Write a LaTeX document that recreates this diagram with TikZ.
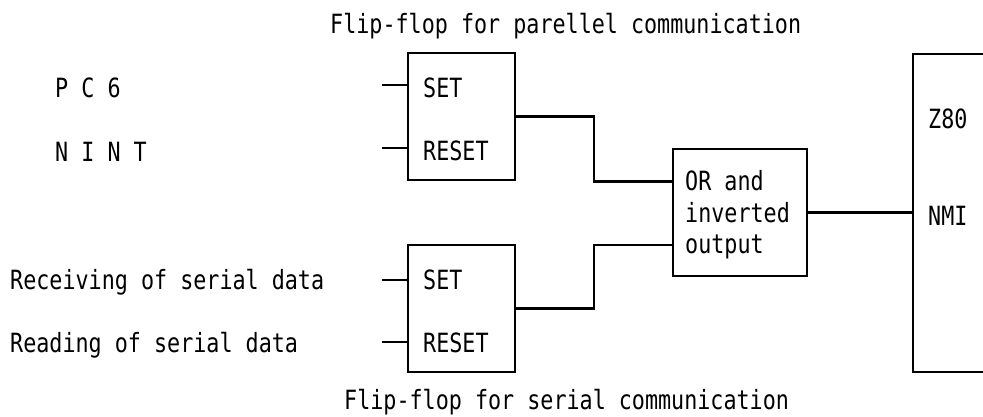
\documentclass[tikz,border=0pt]{standalone}
\usepackage{fontspec}
\usetikzlibrary{calc}
% narrow monospaced lettering for all labels
\newfontfamily\dgfont[FakeStretch=0.82]{DejaVu Sans Mono}
\tikzset{
  wire/.style={line width=2.2pt, line cap=rect},
  blockbox/.style={draw, line width=2.2pt, rectangle, inner sep=0pt},
  ffbox/.style={blockbox, minimum width=107pt, minimum height=127pt},
  label/.style={anchor=base west, inner sep=0pt,
    font=\dgfont\fontsize{26.5}{31}\selectfont},
}
\begin{document}
\begin{tikzpicture}[x=1pt, y=-1pt]
\useasboundingbox (0,0) rectangle (983,416);

% flip-flop blocks and the OR gate
\node[ffbox] (pff) at (461.5,116.5) {};
\node[ffbox] (sff) at (461.5,308.5) {};
\node[blockbox, minimum width=134pt, minimum height=127pt] (orb) at (740,212.5) {};

% Z80 block, open towards the right edge
\draw[line width=2.2pt] (990,54) -- (913,54) -- (913,372) -- (990,372);
\coordinate (nmi) at (913,212.5);

% titles
\node[label] (ttop) at (330,33) {Flip-flop for parellel communication};
\node[label] (tbot) at (344,409) {Flip-flop for serial communication};

% signal names on the left
\node[label] (pc6) at (55,97) {P C 6};
\node[label] (nint) at (55,161) {N I N T};
\node[label] (rcv) at (10,289) {Receiving of serial data};
\node[label] (rd) at (10,352) {Reading of serial data};

% texts inside the blocks
\node[label] (pset) at (423,97) {SET};
\node[label] (preset) at (423,160) {RESET};
\node[label] (sset) at (423,289) {SET};
\node[label] (sreset) at (423,352) {RESET};
\node[label] (or1) at (685,190) {OR and};
\node[label] (or2) at (685,222) {inverted};
\node[label] (or3) at (685,253) {output};
\node[label] (z80) at (928,128) {Z80};
\node[label] (nmil) at (928,225) {NMI};

% flip-flop input stubs
\coordinate (pin1) at (383,85);
\coordinate (pin2) at (383,148);
\coordinate (sin1) at (383,280);
\coordinate (sin2) at (383,342);
\draw[wire] (pin1) -- (pin1 -| pff.west);
\draw[wire] (pin2) -- (pin2 -| pff.west);
\draw[wire] (sin1) -- (sin1 -| sff.west);
\draw[wire] (sin2) -- (sin2 -| sff.west);

% flip-flop outputs into the OR gate
\coordinate (orin1) at ($(orb.west)+(0,-31)$);
\coordinate (orin2) at ($(orb.west)+(0,32.5)$);
\draw[wire] (pff.east) -- (594,116.5) |- (orin1);
\draw[wire] (sff.east) -- (594,308.5) |- (orin2);

% OR output to NMI
\draw[wire] (orb.east) -- (nmi);
\end{tikzpicture}
\end{document}
